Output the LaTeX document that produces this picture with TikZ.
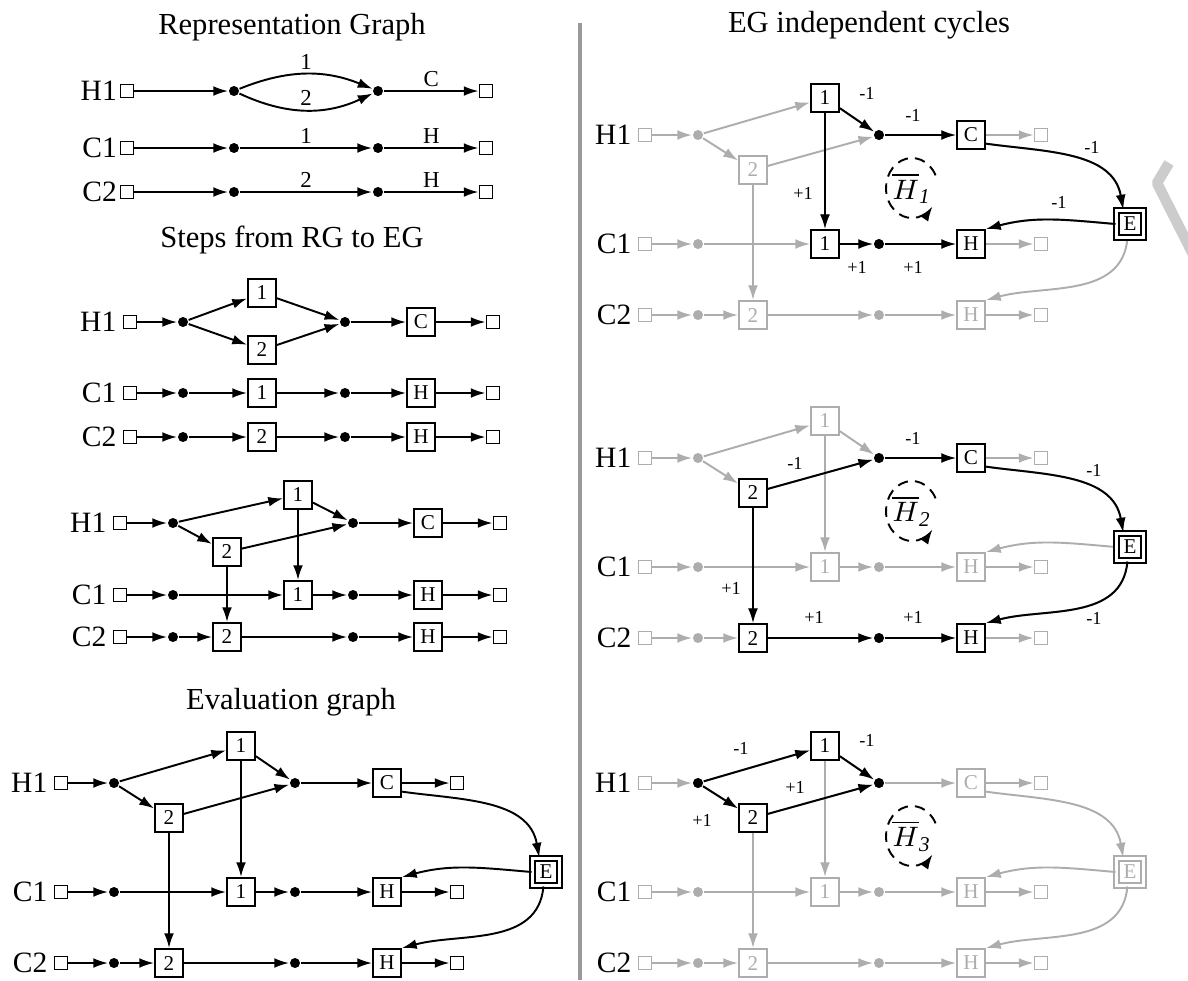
\documentclass[tikz,border=0pt]{standalone}
\usepackage{fontspec}
\setmainfont{Liberation Serif}
\usetikzlibrary{arrows.meta}

\tikzset{
  term/.style={draw, minimum size=0.13cm, inner sep=0pt},
  dot/.style={circle, fill, minimum size=0.1cm, inner sep=0pt},
  op/.style={draw, minimum size=0.28cm, inner sep=0pt, font=\fontsize{6}{7}\selectfont},
  ebox/.style={draw, double, double distance=1.1pt, minimum size=0.27cm, inner sep=0pt, font=\fontsize{6}{7}\selectfont},
  rowlbl/.style={anchor=east, inner sep=1.5pt, text=black, font=\fontsize{8.4}{10}\selectfont},
  heading/.style={font=\fontsize{8.7}{10}\selectfont},
  elbl/.style={inner sep=1pt, font=\fontsize{6.5}{7}\selectfont},
  wt/.style={inner sep=0pt, text=black, font=\fontsize{5.2}{6}\selectfont},
  cyc/.style={inner sep=0pt, text=black, font=\fontsize{8}{9}\selectfont},
  faded/.style={color=black!32},
  pics/evalgraph/.style={code={
    \node[term] (-s1) at (0.61,7.83) {};
    \node[term] (-s2) at (0.61,8.92) {};
    \node[term] (-s3) at (0.61,9.63) {};
    \node[rowlbl] (-l1) at (-s1.west) {H1};
    \node[rowlbl] (-l2) at (-s2.west) {C1};
    \node[rowlbl] (-l3) at (-s3.west) {C2};
    \node[dot] (-a1) at (1.14,7.83) {};
    \node[dot] (-a2) at (1.14,8.92) {};
    \node[dot] (-a3) at (1.14,9.63) {};
    \node[op] (-b1) at (2.41,7.46) {1};
    \node[op] (-b2) at (1.69,8.18) {2};
    \node[op] (-c1) at (2.41,8.92) {1};
    \node[op] (-c2) at (1.69,9.63) {2};
    \node[dot] (-d1) at (2.95,7.83) {};
    \node[dot] (-d2) at (2.95,8.92) {};
    \node[dot] (-d3) at (2.95,9.63) {};
    \node[op] (-x1) at (3.87,7.83) {C};
    \node[op] (-x2) at (3.87,8.92) {H};
    \node[op] (-x3) at (3.87,9.63) {H};
    \node[term] (-e1) at (4.57,7.83) {};
    \node[term] (-e2) at (4.57,8.92) {};
    \node[term] (-e3) at (4.57,9.63) {};
    \node[ebox] (-E) at (5.46,8.72) {E};
    \draw[->] (-s1) -- (-a1);
    \draw[->] (-a1) -- (-b1);
    \draw[->] (-a1) -- (-b2);
    \draw[->] (-b1) -- (-d1);
    \draw[->] (-b2) -- (-d1);
    \draw[->] (-d1) -- (-x1);
    \draw[->] (-x1) -- (-e1);
    \draw[->] (-b1) -- (-c1);
    \draw[->] (-b2) -- (-c2);
    \draw[->] (-s2) -- (-a2);
    \draw[->] (-a2) -- (-c1);
    \draw[->] (-c1) -- (-d2);
    \draw[->] (-d2) -- (-x2);
    \draw[->] (-x2) -- (-e2);
    \draw[->] (-s3) -- (-a3);
    \draw[->] (-a3) -- (-c2);
    \draw[->] (-c2) -- (-d3);
    \draw[->] (-d3) -- (-x3);
    \draw[->] (-x3) -- (-e3);
    \draw[->] (-x1.-30) to[out=-8,in=100] (-E.115);
    \draw[->] (-E.west) to[out=175,in=15] (-x2.north east);
    \draw[->] (-E.-100) to[out=-95,in=15] (-x3.north east);
  }}
}

\begin{document}
\begin{tikzpicture}[x=1cm, y=-1cm, line width=0.55pt, >={Latex[length=4.2pt,width=2.8pt]}]
  \useasboundingbox (0,0) rectangle (11.88,9.80);

  % representation graph
  \node[heading] (hRG) at (2.92,0.27) {Representation Graph};
  \node[term] (rs1) at (1.27,0.91) {};
  \node[term] (rs2) at (1.27,1.48) {};
  \node[term] (rs3) at (1.27,1.92) {};
  \node[rowlbl,inner sep=0.5pt] (rl1) at (rs1.west) {H1};
  \node[rowlbl,inner sep=0.5pt] (rl2) at (rs2.west) {C1};
  \node[rowlbl,inner sep=0.5pt] (rl3) at (rs3.west) {C2};
  \node[dot] (ra1) at (2.34,0.91) {};
  \node[dot] (ra2) at (2.34,1.48) {};
  \node[dot] (ra3) at (2.34,1.92) {};
  \node[dot] (rd1) at (3.78,0.91) {};
  \node[dot] (rd2) at (3.78,1.48) {};
  \node[dot] (rd3) at (3.78,1.92) {};
  \node[term] (re1) at (4.86,0.91) {};
  \node[term] (re2) at (4.86,1.48) {};
  \node[term] (re3) at (4.86,1.92) {};
  \draw[->] (rs1) -- (ra1);
  \draw[->] (ra1) to[bend left=22] node[elbl,above] (rw1) {1} (rd1);
  \draw[->] (ra1) to[bend right=25] node[elbl,above] (rw2) {2} (rd1);
  \draw[->] (rd1) -- node[elbl,above] (rw3) {C} (re1);
  \draw[->] (rs2) -- (ra2);
  \draw[->] (ra2) -- node[elbl,above] (rw4) {1} (rd2);
  \draw[->] (rd2) -- node[elbl,above] (rw5) {H} (re2);
  \draw[->] (rs3) -- (ra3);
  \draw[->] (ra3) -- node[elbl,above] (rw6) {2} (rd3);
  \draw[->] (rd3) -- node[elbl,above] (rw7) {H} (re3);

  % steps from RG to EG, first
  \node[heading] (hST) at (2.92,2.40) {Steps from RG to EG};
  \node[term] (ss1) at (1.30,3.22) {};
  \node[term] (ss2) at (1.30,3.93) {};
  \node[term] (ss3) at (1.30,4.37) {};
  \node[rowlbl] (sl1) at (ss1.west) {H1};
  \node[rowlbl] (sl2) at (ss2.west) {C1};
  \node[rowlbl] (sl3) at (ss3.west) {C2};
  \node[dot] (sa1) at (1.83,3.22) {};
  \node[dot] (sa2) at (1.83,3.93) {};
  \node[dot] (sa3) at (1.83,4.37) {};
  \node[op] (sb1) at (2.62,2.93) {1};
  \node[op] (sb2) at (2.62,3.50) {2};
  \node[op] (sc1) at (2.62,3.93) {1};
  \node[op] (sc2) at (2.62,4.37) {2};
  \node[dot] (sd1) at (3.45,3.22) {};
  \node[dot] (sd2) at (3.45,3.93) {};
  \node[dot] (sd3) at (3.45,4.37) {};
  \node[op] (sx1) at (4.21,3.22) {C};
  \node[op] (sx2) at (4.21,3.93) {H};
  \node[op] (sx3) at (4.21,4.37) {H};
  \node[term] (se1) at (4.93,3.22) {};
  \node[term] (se2) at (4.93,3.93) {};
  \node[term] (se3) at (4.93,4.37) {};
  \draw[->] (ss1) -- (sa1);
  \draw[->] (sa1) -- (sb1);
  \draw[->] (sa1) -- (sb2);
  \draw[->] (sb1) -- (sd1);
  \draw[->] (sb2) -- (sd1);
  \draw[->] (sd1) -- (sx1);
  \draw[->] (sx1) -- (se1);
  \draw[->] (ss2) -- (sa2);
  \draw[->] (sa2) -- (sc1);
  \draw[->] (sc1) -- (sd2);
  \draw[->] (sd2) -- (sx2);
  \draw[->] (sx2) -- (se2);
  \draw[->] (ss3) -- (sa3);
  \draw[->] (sa3) -- (sc2);
  \draw[->] (sc2) -- (sd3);
  \draw[->] (sd3) -- (sx3);
  \draw[->] (sx3) -- (se3);

  % steps from RG to EG, second
  \node[term] (ts1) at (1.20,5.23) {};
  \node[term] (ts2) at (1.20,5.95) {};
  \node[term] (ts3) at (1.20,6.37) {};
  \node[rowlbl] (tl1) at (ts1.west) {H1};
  \node[rowlbl] (tl2) at (ts2.west) {C1};
  \node[rowlbl] (tl3) at (ts3.west) {C2};
  \node[dot] (ta1) at (1.73,5.23) {};
  \node[dot] (ta2) at (1.73,5.95) {};
  \node[dot] (ta3) at (1.73,6.37) {};
  \node[op] (tb1) at (2.98,4.95) {1};
  \node[op] (tb2) at (2.27,5.52) {2};
  \node[op] (tc1) at (2.98,5.95) {1};
  \node[op] (tc2) at (2.27,6.37) {2};
  \node[dot] (td1) at (3.53,5.23) {};
  \node[dot] (td2) at (3.53,5.95) {};
  \node[dot] (td3) at (3.53,6.37) {};
  \node[op] (tx1) at (4.28,5.23) {C};
  \node[op] (tx2) at (4.28,5.95) {H};
  \node[op] (tx3) at (4.28,6.37) {H};
  \node[term] (te1) at (5.00,5.23) {};
  \node[term] (te2) at (5.00,5.95) {};
  \node[term] (te3) at (5.00,6.37) {};
  \draw[->] (ts1) -- (ta1);
  \draw[->] (ta1) -- (tb1);
  \draw[->] (ta1) -- (tb2);
  \draw[->] (tb1) -- (td1);
  \draw[->] (tb2) -- (td1);
  \draw[->] (td1) -- (tx1);
  \draw[->] (tx1) -- (te1);
  \draw[->] (tb1) -- (tc1);
  \draw[->] (tb2) -- (tc2);
  \draw[->] (ts2) -- (ta2);
  \draw[->] (ta2) -- (tc1);
  \draw[->] (tc1) -- (td2);
  \draw[->] (td2) -- (tx2);
  \draw[->] (tx2) -- (te2);
  \draw[->] (ts3) -- (ta3);
  \draw[->] (ta3) -- (tc2);
  \draw[->] (tc2) -- (td3);
  \draw[->] (td3) -- (tx3);
  \draw[->] (tx3) -- (te3);

  % evaluation graph
  \node[heading] (hEG) at (2.91,7.02) {Evaluation graph};
  \pic (eg) at (0,0) {evalgraph};

  % divider
  \draw[black!40, line width=0.9pt] (5.80,0.23) -- (5.80,9.80);
  \node[heading] (hIC) at (8.69,0.25) {EG independent cycles};

  % cycle 1
  \pic[faded] (k1) at (5.84,-6.48) {evalgraph};
  \node[op,fill=white] (k1b1) at (k1-b1) {1};
  \node[dot] (k1d1) at (k1-d1) {};
  \node[op,fill=white] (k1x1) at (k1-x1) {C};
  \node[ebox,fill=white] (k1E) at (k1-E) {E};
  \node[op,fill=white] (k1c1) at (k1-c1) {1};
  \node[dot] (k1d2) at (k1-d2) {};
  \node[op,fill=white] (k1x2) at (k1-x2) {H};
  \draw[->] (k1b1) -- (k1d1);
  \draw[->] (k1d1) -- (k1x1);
  \draw[->] (k1x1.-30) to[out=-8,in=100] (k1E.115);
  \draw[->] (k1E.west) to[out=175,in=15] (k1x2.north east);
  \draw[->] (k1b1) -- (k1c1);
  \draw[->] (k1c1) -- (k1d2);
  \draw[->] (k1d2) -- (k1x2);
  \node[wt] (w11) at (8.67,0.93) {-1};
  \node[wt] (w12) at (9.13,1.15) {-1};
  \node[wt] (w13) at (10.92,1.47) {-1};
  \node[wt] (w14) at (10.59,2.02) {-1};
  \node[wt] (w15) at (8.03,1.93) {+1};
  \node[wt] (w16) at (8.57,2.67) {+1};
  \node[wt] (w17) at (9.13,2.67) {+1};
  \coordinate (o1) at (9.12,1.88);
  \draw[densely dashed,->] (o1) ++(25:0.26cm and 0.30cm) arc[start angle=25, end angle=322, x radius=0.26cm, y radius=0.30cm];
  \node[cyc] (n1) at (o1) {$\overline{H}_{\mathit{1}}$};

  % cycle 2
  \pic[faded] (k2) at (5.84,-3.25) {evalgraph};
  \node[op,fill=white] (k2b2) at (k2-b2) {2};
  \node[dot] (k2d1) at (k2-d1) {};
  \node[op,fill=white] (k2x1) at (k2-x1) {C};
  \node[ebox,fill=white] (k2E) at (k2-E) {E};
  \node[op,fill=white] (k2c2) at (k2-c2) {2};
  \node[dot] (k2d3) at (k2-d3) {};
  \node[op,fill=white] (k2x3) at (k2-x3) {H};
  \draw[->] (k2b2) -- (k2d1);
  \draw[->] (k2d1) -- (k2x1);
  \draw[->] (k2x1.-30) to[out=-8,in=100] (k2E.115);
  \draw[->] (k2E.-100) to[out=-95,in=15] (k2x3.north east);
  \draw[->] (k2b2) -- (k2c2);
  \draw[->] (k2c2) -- (k2d3);
  \draw[->] (k2d3) -- (k2x3);
  \node[wt] (w21) at (7.95,4.63) {-1};
  \node[wt] (w22) at (9.13,4.38) {-1};
  \node[wt] (w23) at (10.94,4.70) {-1};
  \node[wt] (w24) at (10.94,6.18) {-1};
  \node[wt] (w25) at (7.31,5.88) {+1};
  \node[wt] (w26) at (8.14,6.17) {+1};
  \node[wt] (w27) at (9.13,6.17) {+1};
  \coordinate (o2) at (9.12,5.11);
  \draw[densely dashed,->] (o2) ++(25:0.26cm and 0.30cm) arc[start angle=25, end angle=322, x radius=0.26cm, y radius=0.30cm];
  \node[cyc] (n2) at (o2) {$\overline{H}_{\mathit{2}}$};

  % cycle 3
  \pic[faded] (k3) at (5.84,0) {evalgraph};
  \node[dot] (k3a1) at (k3-a1) {};
  \node[op,fill=white] (k3b1) at (k3-b1) {1};
  \node[op,fill=white] (k3b2) at (k3-b2) {2};
  \node[dot] (k3d1) at (k3-d1) {};
  \draw[->] (k3a1) -- (k3b1);
  \draw[->] (k3a1) -- (k3b2);
  \draw[->] (k3b1) -- (k3d1);
  \draw[->] (k3b2) -- (k3d1);
  \node[wt] (w31) at (7.41,7.48) {-1};
  \node[wt] (w32) at (8.67,7.40) {-1};
  \node[wt] (w33) at (7.95,7.87) {+1};
  \node[wt] (w34) at (7.02,8.20) {+1};
  \coordinate (o3) at (9.12,8.36);
  \draw[densely dashed,->] (o3) ++(25:0.26cm and 0.30cm) arc[start angle=25, end angle=322, x radius=0.26cm, y radius=0.30cm];
  \node[cyc] (n3) at (o3) {$\overline{H}_{\mathit{3}}$};

  % grey mark at the edge
  \draw[black!20, line width=3pt, line join=bevel] (11.69,1.63) -- (11.57,1.83) -- (12.00,2.68);
\end{tikzpicture}
\end{document}
